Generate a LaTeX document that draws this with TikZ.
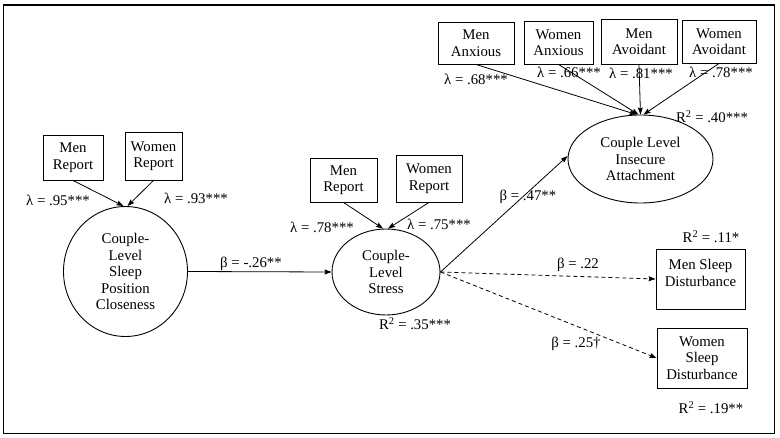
\documentclass[tikz,border=0pt]{standalone}
\usepackage{fontspec}
\setmainfont{Liberation Serif}
\usetikzlibrary{shapes.geometric,arrows.meta}

\begin{document}
\begin{tikzpicture}[x=1pt, y=-1pt,
        every node/.style={font=\fontsize{14.8}{16.5}\selectfont},
        obsbox/.style={draw, rectangle, line width=0.9pt, align=center, inner sep=2pt},
        latent/.style={draw, ellipse, line width=0.9pt, align=center, inner sep=0pt},
        path/.style={line width=0.8pt, -{Stealth[length=7pt,width=5pt,inset=1pt]}},
        nspath/.style={path, dash pattern=on 4pt off 3pt},
        est/.style={inner sep=0pt}]
            \useasboundingbox (0,0) rectangle (780,438);
            \draw[line width=1.3pt] (3.5,5) rectangle (774.5,433.5);

            \node[latent, minimum width=124, minimum height=130] (clos) at (125.5,271.5) {Couple-\\Level\\Sleep\\Position\\Closeness};
            \node[latent, minimum width=108, minimum height=86] (stress) at (386,272) {Couple-\\Level\\Stress};
            \node[latent, minimum width=145, minimum height=88] (attach) at (640.5,159) {Couple Level\\Insecure\\Attachment};

            \node[obsbox, minimum width=60, minimum height=45] (mr1) at (73,157.5) {Men\\Report};
            \node[obsbox, minimum width=57, minimum height=48] (wr1) at (153.5,156) {Women\\Report};
            \node[obsbox, minimum width=67, minimum height=44] (mr2) at (343.5,180) {Men\\Report};
            \node[obsbox, minimum width=66, minimum height=47] (wr2) at (429,178.5) {Women\\Report};
            \node[obsbox, minimum width=76, minimum height=42] (manx) at (476,43) {Men\\Anxious};
            \node[obsbox, minimum width=69, minimum height=43] (wanx) at (558.5,42.5) {Women\\Anxious};
            \node[obsbox, minimum width=76, minimum height=45] (mavo) at (639,41.5) {Men\\Avoidant};
            \node[obsbox, minimum width=74, minimum height=43] (wavo) at (719,41.5) {Women\\Avoidant};
            \node[obsbox, minimum width=89, minimum height=60, text depth=12pt] (msd) at (700.5,279) {Men Sleep\\Disturbance};
            \node[obsbox, minimum width=90, minimum height=60] (wsd) at (702,358) {Women\\Sleep\\Disturbance};

            \draw[path] (mr1.south) -- ([xshift=-2]clos.north);
            \draw[path] (wr1.south) -- ([xshift=2]clos.north);
            \draw[path] (mr2.south) -- ([xshift=-3]stress.north);
            \draw[path] (wr2.south) -- ([xshift=2]stress.north);
            \draw[path] (manx.south) -- ([xshift=-4]attach.north);
            \draw[path] (wanx.south) -- ([xshift=-2]attach.north);
            \draw[path] (mavo.south) -- (attach.north);
            \draw[path] (wavo.south) -- ([xshift=3]attach.north);
            \draw[path] (clos.east) -- (stress.west);
            \draw[path] (stress.east) -- ([yshift=3]attach.west);
            \draw[nspath] (stress.east) -- (msd.west);
            \draw[nspath] (stress.east) -- (wsd.west);

            \node[est] (l1) at (58,200) {λ = .95***};
            \node[est] (l2) at (196,198) {λ = .93***};
            \node[est] (l3) at (322,227) {λ = .78***};
            \node[est] (l4) at (439,224) {λ = .75***};
            \node[est] (l5) at (476,79) {λ = .68***};
            \node[est] (l6) at (569,72) {λ = .66***};
            \node[est] (l7) at (641,73) {λ = .81***};
            \node[est] (l8) at (721,72) {λ = .78***};
            \node[est] (b1) at (251,264) {β = -.26**};
            \node[est] (b2) at (528,197) {β = .47**};
            \node[est] (b3) at (578,265) {β = .22};
            \node[est] (b4) at (576,344) {β = .25\textdagger};
            \node[est] (r1) at (415,324) {R\textsuperscript{2} = .35***};
            \node[est] (r2) at (712,117) {R\textsuperscript{2} = .40***};
            \node[est] (r3) at (711,237) {R\textsuperscript{2} = .11*};
            \node[est] (r4) at (711,408) {R\textsuperscript{2} = .19**};
        \end{tikzpicture}
\end{document}
